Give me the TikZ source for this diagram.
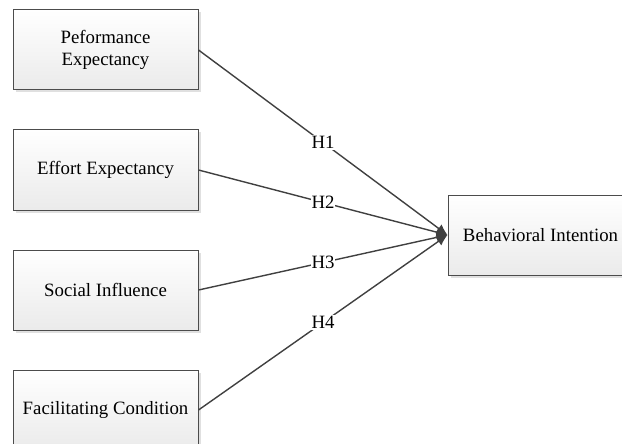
\documentclass[tikz,border=0pt]{standalone}
\usepackage{fontspec}
\setmainfont{Liberation Serif}
\usepackage{tikz}
\usetikzlibrary{positioning,calc,arrows.meta,shadows}

\tikzset{
	factor/.style={draw=black!70,line width=1pt,top color=white,bottom color=black!8,
		drop shadow={shadow xshift=2.5pt,shadow yshift=-2.5pt,fill=black!12,opacity=1},
		minimum height=80pt,minimum width=185pt,align=center,
		font=\fontsize{18.8}{22}\selectfont},
	path/.style={draw=black!75,line width=1.4pt,-{Latex[length=11pt,width=10pt]}},
	hyp/.style={fill=white,inner sep=1pt,font=\fontsize{18.8}{22}\selectfont}
}

\begin{document}
\begin{tikzpicture}[x=1pt,y=1pt]
		\useasboundingbox (0,0) rectangle (622,-444);
		\node[factor] (pe) at (105.5,-50) {Peformance\\Expectancy};
		\node[factor,below=39pt of pe] (ee) {Effort Expectancy};
		\node[factor,below=39pt of ee] (si) {Social Influence};
		\node[factor,below=39pt of si] (fc) {Facilitating Condition};
		\node[factor] (bi) at (540.5,-235) {Behavioral Intention};
		
		\draw[path] (pe.east)--(bi.west) node[hyp,pos=0.5] {H1};
		\draw[path] (ee.east)--(bi.west) node[hyp,pos=0.5] {H2};
		\draw[path] (si.east)--(bi.west) node[hyp,pos=0.5] {H3};
		\draw[path] (fc.east)--(bi.west) node[hyp,pos=0.5] {H4};
	\end{tikzpicture}
\end{document}
